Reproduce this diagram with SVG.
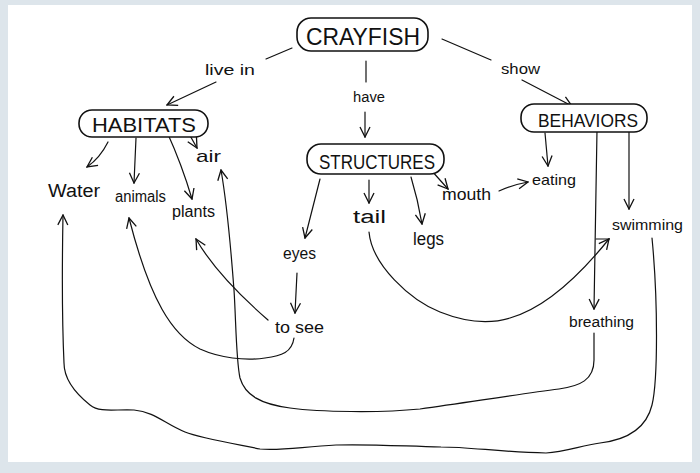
<svg xmlns="http://www.w3.org/2000/svg" width="700" height="473" viewBox="0 0 700 473">
<defs>
<marker id="ar" markerUnits="userSpaceOnUse" markerWidth="12" markerHeight="12" viewBox="0 0 12 12" refX="11" refY="6" orient="auto">
<path d="M1,1 L11,6 L1,11" fill="none" stroke="#111" stroke-width="1.3"/>
</marker>
</defs>
<style>
.box{fill:#fff;stroke:#111;stroke-width:1.6}
.big{font-family:"Liberation Sans",Arial,sans-serif;fill:#111}
.t{font-family:"Liberation Sans",Arial,sans-serif;fill:#111}
.c path,.c line{fill:none;stroke:#111;stroke-width:1.2;stroke-linecap:round}
.m{marker-end:url(#ar)}
</style>
<rect x="0" y="0" width="700" height="473" fill="#dde5eb"/>
<rect x="8" y="5" width="684" height="457" fill="#fff"/>

<g class="c" id="connectors">
<path d="M292,48 L266,59"/>
<path class="m" d="M216,82 L167,105"/>
<path d="M366,61 L366,82"/>
<path class="m" d="M365,112 L365,137"/>
<path d="M442,39 L491,60"/>
<path class="m" d="M522,80 L572,106"/>
<path class="m" d="M108,142 Q100,158 87,167"/>
<path class="m" d="M136,138 L134,183"/>
<path class="m" d="M167,132 Q182,165 192,199"/>
<path class="m" d="M188,132 L197,148"/>
<path class="m" d="M320,179 L305,238"/>
<path class="m" d="M369,180 L369,203"/>
<path class="m" d="M411,177 Q418,200 422,224"/>
<path class="m" d="M431,170 L448,189"/>
<path class="m" d="M499,191 Q512,185 528,182"/>
<path class="m" d="M545,133 L548,166"/>
<path class="m" d="M629,132 L629,209"/>
<path class="m" d="M597,130 L594,309"/>
<path class="m" d="M297,273 L295,313"/>
<path class="m" d="M369,232 C372,265 410,300 440,312 C465,322 490,324 510,318 C545,308 580,275 609,239"/>
<line x1="596" y1="239" x2="609" y2="239"/>
<path class="m" d="M294,338 C292,352 282,356 265,358 C245,361 220,358 200,349 C172,335 150,300 129,218"/>
<path class="m" d="M268,320 C245,300 215,272 196,239"/>
<path class="m" d="M594,333 L594,360 C594,380 580,386 559,389 C520,394 470,402 420,409 C380,413 320,412 290,408 C260,404 245,395 240,378 C236,360 236,320 234,290 C231,250 228,210 221,170"/>
<path class="m" d="M652,238 C658,300 658,380 652,405 C646,430 625,440 600,443 C580,446 565,452 546,453 C500,452 470,447 441,447 C400,446 370,444 336,445 C300,447 280,451 260,449 C230,443 200,438 185,432 C165,424 155,412 134,410 C115,409 100,413 90,405 C75,393 64,380 64,363 C62,320 62,270 63,215"/>
</g>

<g id="crayfish"><rect class="box" x="297" y="18" width="131" height="33" rx="14"/><text class="big" x="306" y="45" font-size="24" textLength="114" lengthAdjust="spacingAndGlyphs">CRAYFISH</text></g>
<g id="habitats"><rect class="box" x="79" y="110" width="129" height="27" rx="13"/><text class="big" x="92" y="132" font-size="21" textLength="104" lengthAdjust="spacingAndGlyphs">HABITATS</text></g>
<g id="structures"><rect class="box" x="307" y="144" width="137" height="30" rx="14"/><text class="big" x="319" y="169" font-size="21" textLength="116" lengthAdjust="spacingAndGlyphs">STRUCTURES</text></g>
<g id="behaviors"><rect class="box" x="521" y="104" width="126" height="28" rx="13"/><text class="big" x="538" y="127" font-size="19" textLength="100" lengthAdjust="spacingAndGlyphs">BEHAVIORS</text></g>

<g id="lbl-livein"><text class="t" x="205" y="75" font-size="14" textLength="50" lengthAdjust="spacingAndGlyphs">live in</text></g>
<g id="lbl-have"><text class="t" x="353" y="102" font-size="14" textLength="32" lengthAdjust="spacingAndGlyphs">have</text></g>
<g id="lbl-show"><text class="t" x="501" y="74" font-size="14" textLength="39" lengthAdjust="spacingAndGlyphs">show</text></g>

<g id="water"><text class="t" x="48" y="197" font-size="18" textLength="52" lengthAdjust="spacingAndGlyphs">Water</text></g>
<g id="animals"><text class="t" x="115" y="202" font-size="16" textLength="51" lengthAdjust="spacingAndGlyphs">animals</text></g>
<g id="plants"><text class="t" x="172" y="217" font-size="16" textLength="43" lengthAdjust="spacingAndGlyphs">plants</text></g>
<g id="air"><text class="t" x="196" y="162" font-size="17" textLength="25" lengthAdjust="spacingAndGlyphs">air</text></g>
<g id="eyes"><text class="t" x="283" y="259" font-size="16" textLength="33" lengthAdjust="spacingAndGlyphs">eyes</text></g>
<g id="tail"><text class="t" x="353" y="223" font-size="18" textLength="33" lengthAdjust="spacingAndGlyphs">tail</text></g>
<g id="legs"><text class="t" x="413" y="245" font-size="18" textLength="31" lengthAdjust="spacingAndGlyphs">legs</text></g>
<g id="mouth"><text class="t" x="442" y="200" font-size="17" textLength="49" lengthAdjust="spacingAndGlyphs">mouth</text></g>
<g id="eating"><text class="t" x="532" y="185" font-size="15" textLength="44" lengthAdjust="spacingAndGlyphs">eating</text></g>
<g id="swimming"><text class="t" x="612" y="230" font-size="15" textLength="71" lengthAdjust="spacingAndGlyphs">swimming</text></g>
<g id="tosee"><text class="t" x="275" y="333" font-size="16" textLength="49" lengthAdjust="spacingAndGlyphs">to see</text></g>
<g id="breathing"><text class="t" x="569" y="327" font-size="14" textLength="65" lengthAdjust="spacingAndGlyphs">breathing</text></g>
</svg>
